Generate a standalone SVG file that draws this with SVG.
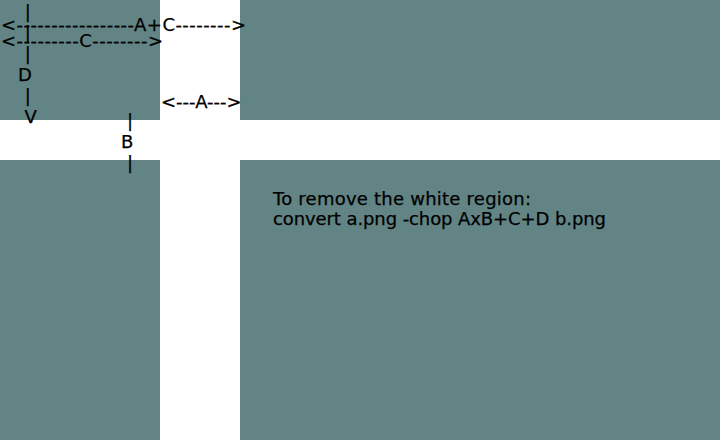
<svg xmlns="http://www.w3.org/2000/svg" width="720" height="440" viewBox="0 0 720 440">
<style>
text{font-family:"DejaVu Sans","Bitstream Vera Sans",sans-serif;font-size:18px;fill:#000;stroke:#000;stroke-width:0.25}
</style>
<rect width="720" height="440" fill="#628484"/>
<rect x="160" y="0" width="80" height="440" fill="#fff"/>
<rect x="0" y="120" width="720" height="40" fill="#fff"/>
<g id="labels">
<text x="24.7" y="17.5">|</text>
<text x="24.7" y="38.5">|</text>
<text x="24.7" y="59.5">|</text>
<text x="18" y="80.5">D</text>
<text x="24.7" y="101.5">|</text>
<text x="24.5" y="122.5">V</text>
<text x="1" y="31" textLength="245" lengthAdjust="spacing">&lt;-----------------A+C--------&gt;</text>
<text x="1" y="47" textLength="162" lengthAdjust="spacing">&lt;---------C--------&gt;</text>
<text x="161" y="108">&lt;---A---&gt;</text>
<text x="127" y="127">|</text>
<text x="121" y="148">B</text>
<text x="127" y="169">|</text>
<text x="273" y="205" textLength="258" lengthAdjust="spacing">To remove the white region:</text>
<text x="273" y="225" textLength="333" lengthAdjust="spacing">convert a.png -chop AxB+C+D b.png</text>
</g>
</svg>
